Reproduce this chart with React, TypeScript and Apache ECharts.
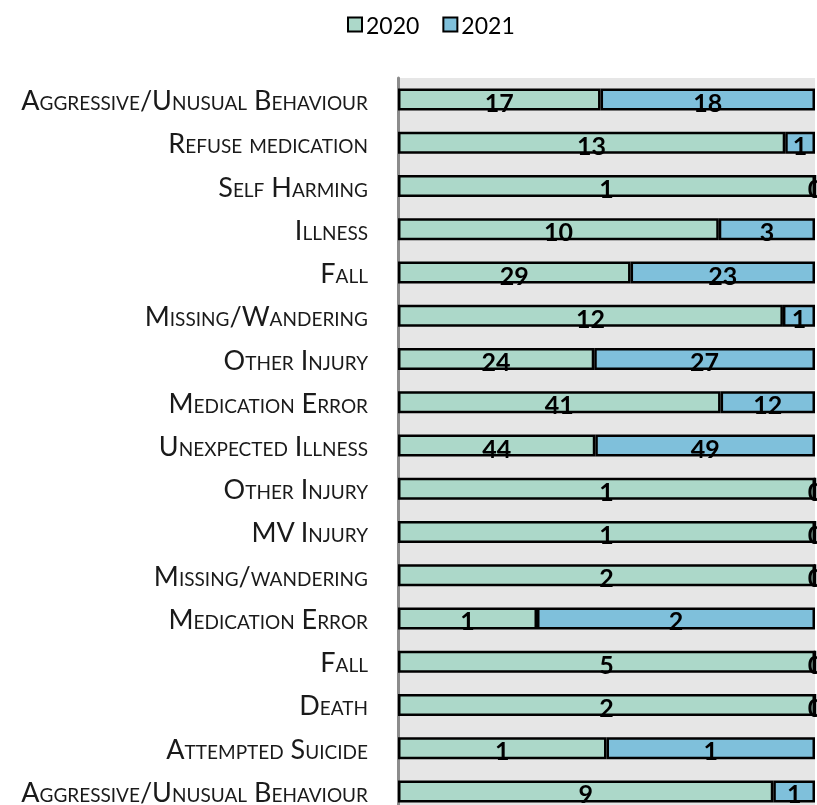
import React, { useEffect, useRef } from "react";
import * as echarts from "echarts";

const categories = [
  "Aggressive/Unusual Behaviour",
  "Refuse medication",
  "Self Harming",
  "Illness",
  "Fall",
  "Missing/Wandering",
  "Other Injury",
  "Medication Error",
  "Unexpected Illness",
  "Other Injury",
  "MV Injury",
  "Missing/wandering",
  "Medication Error",
  "Fall",
  "Death",
  "Attempted Suicide",
  "Aggressive/Unusual Behaviour",
];
const values2020 = [17, 13, 1, 10, 29, 12, 24, 41, 44, 1, 1, 2, 1, 5, 2, 1, 9];
const values2021 = [18, 1, 0, 3, 23, 1, 27, 12, 49, 0, 0, 0, 2, 0, 0, 1, 1];
const seriesNames = ["2020", "2021"];

export default function App() {
  const ref = useRef<HTMLDivElement>(null);
  useEffect(() => {
    if (!ref.current) return;
    const chart = echarts.init(ref.current, undefined, { renderer: "svg" });
    const totals = values2020.map((v, i) => v + values2021[i]);
    const raw = [values2020, values2021];
    const colors = ["#acd8c9", "#7fc0db"];
    const series = raw.map((vals, si) => ({
      name: seriesNames[si],
      type: "bar",
      stack: "total",
      barWidth: 22,
      data: vals.map((v, i) => (v / totals[i]) * 100),
      itemStyle: { color: colors[si], borderColor: "#000", borderWidth: 2.5 },
      label: {
        show: true,
        position: "inside",
        offset: [0, 2],
        fontFamily: "Lato",
        fontWeight: "bold",
        fontSize: 25,
        color: "#000",
        formatter: (p: any) => String(raw[si][p.dataIndex]),
      },
    }));
    chart.setOption({
      animation: false,
      legend: {
        top: 8,
        left: 342,
        icon: "rect",
        itemWidth: 14,
        itemHeight: 14,
        itemGap: 23,
        textStyle: { fontFamily: "Lato", fontSize: 23, color: "#000", padding: [0, 0, 0, -1] },
        data: seriesNames,
      },
      grid: {
        left: 398,
        top: 78,
        right: 2,
        height: 735,
        show: true,
        backgroundColor: "#e6e6e6",
        borderWidth: 0,
        containLabel: false,
      },
      xAxis: {
        type: "value",
        min: 0,
        max: 100,
        show: false,
      },
      yAxis: {
        type: "category",
        inverse: true,
        data: categories,
        axisLine: { show: true, lineStyle: { color: "#8c8c8c", width: 3 } },
        axisTick: { show: false },
        axisLabel: {
          margin: 30,
          fontFamily: "Lato",
          fontSize: 27,
          color: "#1a1a1a",
        },
      },
      series,
    });
    return () => chart.dispose();
  }, []);
  return (
    <>
      <style>{`#chartbox text { font-variant: small-caps; } body { overflow: hidden; }`}</style>
      <div
        id="chartbox"
        ref={ref}
        style={{ position: "fixed", left: 0, top: 0, width: 817, height: 830 }}
      />
    </>
  );
}
